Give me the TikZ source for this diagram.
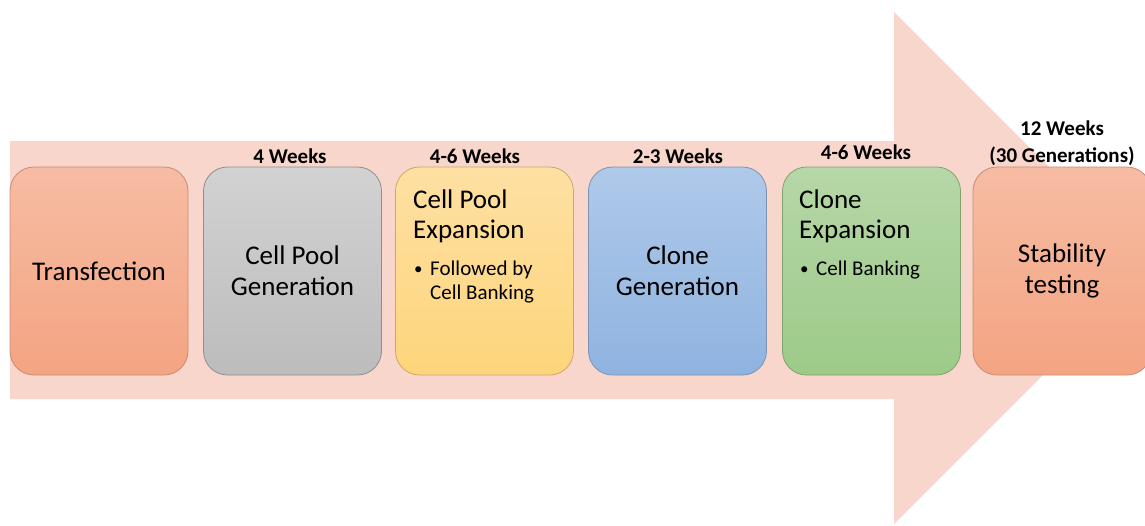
\documentclass[tikz,border=0pt]{standalone}
\usepackage{fontspec}
\setmainfont{Carlito}
\newcommand{\smallbullet}{\makebox[16pt][l]{\raisebox{1pt}{\fontsize{17}{17}\selectfont•}}}
\begin{document}
\begin{tikzpicture}[x=1pt,y=-1pt,
  boxstyle/.style={rounded corners=24pt, line width=0.8pt, minimum width=178pt,
    minimum height=208pt, inner sep=0pt, align=center,
    font=\fontsize{27}{31}\selectfont},
  wk/.style={font=\fontsize{21}{27}\selectfont\bfseries, inner sep=0pt, anchor=base},
  head/.style={font=\fontsize{27}{31}\selectfont, inner sep=0pt, anchor=base west},
  bul/.style={font=\fontsize{21}{25}\selectfont, inner sep=0pt, anchor=base west}]
\definecolor{arrowpink}{HTML}{F8D6CC}
\definecolor{salmonT}{HTML}{F6BCA3}
\definecolor{salmonB}{HTML}{F4A482}
\definecolor{salmonD}{HTML}{C98B73}
\definecolor{grayT}{HTML}{D2D2D2}
\definecolor{grayB}{HTML}{BCBCBC}
\definecolor{grayD}{HTML}{8E8E8E}
\definecolor{yelT}{HTML}{FEE0A3}
\definecolor{yelB}{HTML}{FDD57A}
\definecolor{yelD}{HTML}{C9A869}
\definecolor{bluT}{HTML}{AFC9E9}
\definecolor{bluB}{HTML}{8FB3E0}
\definecolor{bluD}{HTML}{7C93B3}
\definecolor{grnT}{HTML}{B6D7A7}
\definecolor{grnB}{HTML}{9DCA89}
\definecolor{grnD}{HTML}{7FA36F}

\useasboundingbox (0,0) rectangle (1145,525);

% big background arrow
\fill[arrowpink] (10,141) -- (894,141) -- (894,12) -- (1150,268)
  -- (894,524) -- (894,399) -- (10,399) -- cycle;

% step boxes
\node[boxstyle, draw=salmonD, top color=salmonT, bottom color=salmonB] (b1) at (99,271) {Transfection};
\node[boxstyle, draw=grayD, top color=grayT, bottom color=grayB] (b2) at (292.5,271) {Cell Pool\\Generation};
\node[boxstyle, draw=yelD, top color=yelT, bottom color=yelB] (b3) at (484.5,271) {};
\node[boxstyle, draw=bluD, top color=bluT, bottom color=bluB] (b4) at (677.5,271) {Clone\\Generation};
\node[boxstyle, draw=grnD, top color=grnT, bottom color=grnB] (b5) at (871.5,271) {};
\node[boxstyle, draw=salmonD, top color=salmonT, bottom color=salmonB] (b6) at (1062,271) {Stability\\testing};

% left-aligned contents of the expansion boxes
\node[head] (b3a) at (413,208) {Cell Pool};
\node[head] (b3b) at (413,238) {Expansion};
\node[bul] (b3c) at (414,275) {\smallbullet Followed by};
\node[bul] (b3d) at (430,299) {Cell Banking};
\node[head] (b5a) at (799,208) {Clone};
\node[head] (b5b) at (799,238) {Expansion};
\node[bul] (b5c) at (800,275) {\smallbullet Cell Banking};

% durations
\node[wk] (w2) at (290,163) {4 Weeks};
\node[wk] (w3) at (475,163) {4-6 Weeks};
\node[wk] (w4) at (678,163) {2-3 Weeks};
\node[wk] (w5) at (866,159) {4-6 Weeks};
\node[wk] (w6a) at (1062,135) {12 Weeks};
\node[wk] (w6b) at (1062,162) {(30 Generations)};
\end{tikzpicture}
\end{document}
